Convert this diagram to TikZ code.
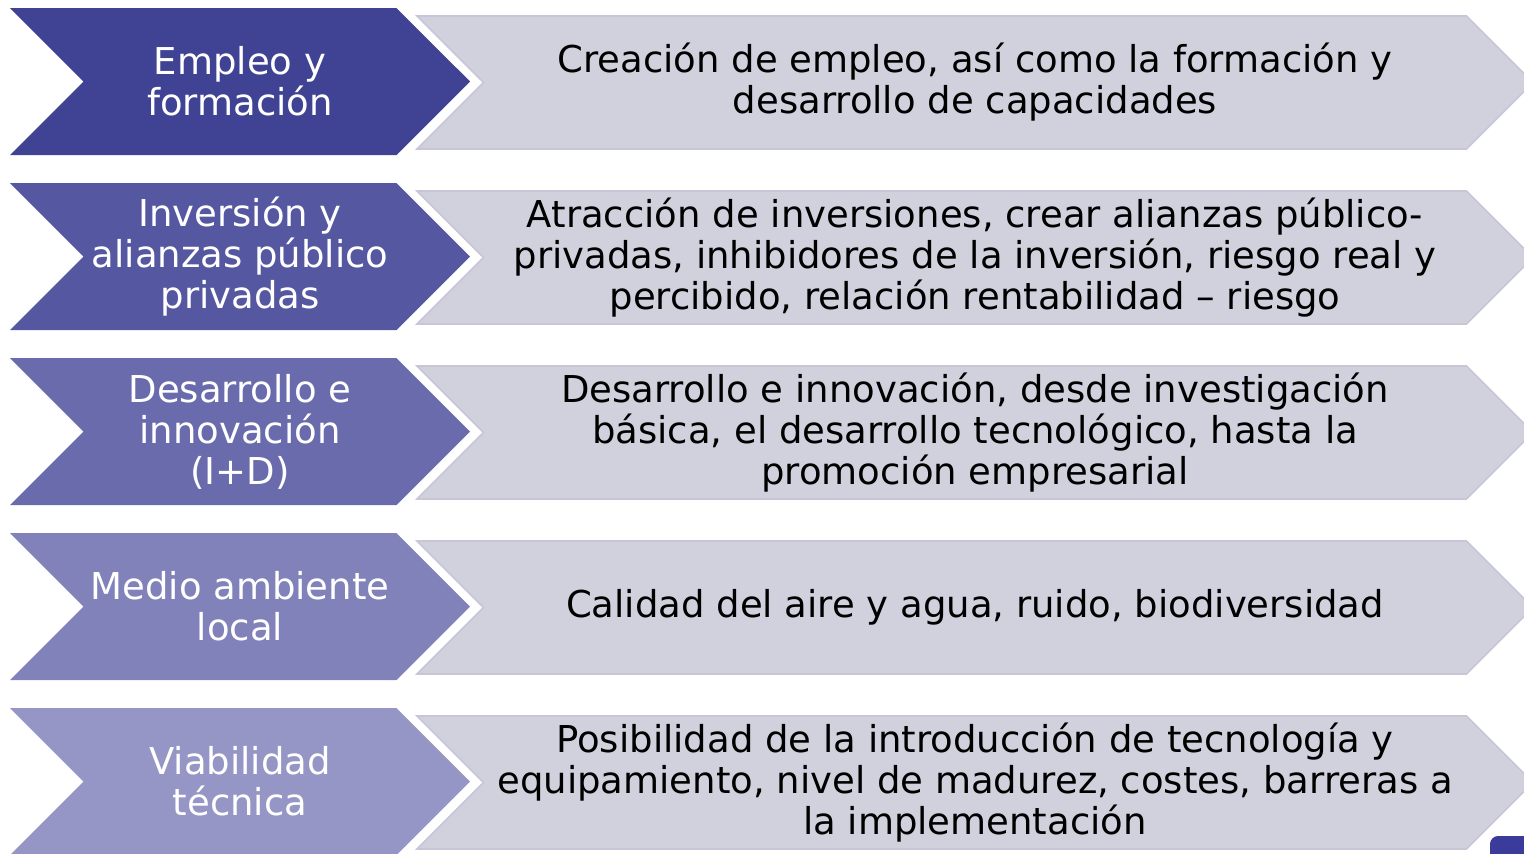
\documentclass[tikz,border=0pt]{standalone}
\usepackage{fontspec}
\setmainfont{DejaVu Sans}
\usetikzlibrary{shapes.symbols}
\definecolor{tema1}{HTML}{404394}
\definecolor{tema2}{HTML}{5557A1}
\definecolor{tema3}{HTML}{6A6BAD}
\definecolor{tema4}{HTML}{8182BA}
\definecolor{tema5}{HTML}{9596C5}
\definecolor{gris}{HTML}{D1D1DE}
\definecolor{grisborde}{HTML}{C6C6D6}
\definecolor{marca}{HTML}{3B3B9B}
\begin{document}
\begin{tikzpicture}[x=0.5pt,y=-0.5pt,
  tema/.style={signal,signal from=west,signal to=east,minimum width=230pt,minimum height=73.5pt,inner sep=1pt,text=white,align=center,font=\fontsize{18.5}{20.5}\selectfont},
  desc/.style={signal,signal from=west,signal to=east,fill=gris,draw=grisborde,line width=0.8pt,minimum width=558pt,minimum height=66.5pt,inner sep=1pt,align=center,font=\fontsize{18.5}{20.5}\selectfont}]
\useasboundingbox (0,0) rectangle (1524,853);
\node (t1) [tema,fill=tema1] at (240,81.5) {Empleo y\\formación} ;
\node (d1) [desc] at (975,82.5) {Creación de empleo, así como la formación y\\desarrollo de capacidades} ;
\node (t2) [tema,fill=tema2] at (240,256.5) {Inversión y\\alianzas público\\privadas} ;
\node (d2) [desc] at (975,257.5) {Atracción de inversiones, crear alianzas público-\\privadas, inhibidores de la inversión, riesgo real y\\percibido, relación rentabilidad – riesgo} ;
\node (t3) [tema,fill=tema3] at (240,431.5) {Desarrollo e\\innovación\\(I+D)} ;
\node (d3) [desc] at (975,432.5) {Desarrollo e innovación, desde investigación\\básica, el desarrollo tecnológico, hasta la\\promoción empresarial} ;
\node (t4) [tema,fill=tema4] at (240,606.5) {Medio ambiente\\local} ;
\node (d4) [desc] at (975,607.5) {Calidad del aire y agua, ruido, biodiversidad} ;
\node (t5) [tema,fill=tema5] at (240,781.5) {Viabilidad\\técnica} ;
\node (d5) [desc] at (975,782.5) {Posibilidad de la introducción de tecnología y\\equipamiento, nivel de madurez, costes, barreras a\\la implementación} ;
\fill[marca,rounded corners=4pt] (1490,836) rectangle (1540,870) ;
\end{tikzpicture}
\end{document}
